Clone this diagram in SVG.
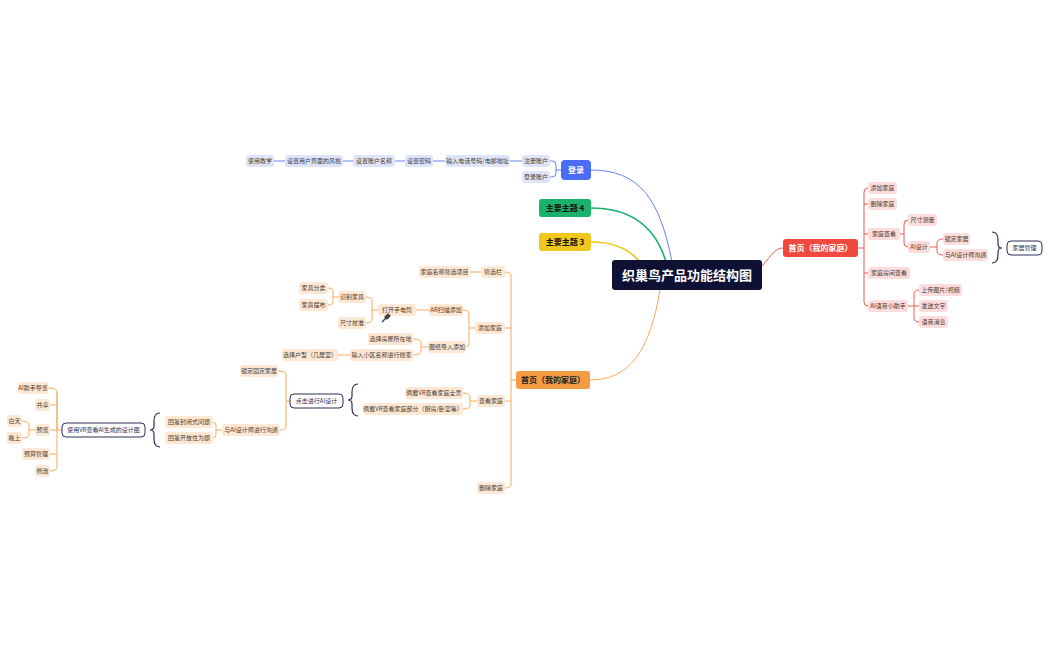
<svg xmlns="http://www.w3.org/2000/svg" width="1049" height="650" viewBox="0 0 1049 650">
<style>
text{font-family:"Noto Sans CJK SC","Noto Sans",sans-serif;font-size:6px;text-anchor:middle;fill:#4a3a2a}
.b rect{fill:#dfe4fb}.o rect{fill:#fde8d6}.r rect{fill:#fcdcdc}
.n rect{fill:#fff;stroke:#2b2f55;stroke-width:1}.n text{fill:#2b2f55}
.lb{fill:none;stroke:#6a7ff5;stroke-width:1}.lo{fill:none;stroke:#f7a95a;stroke-width:1}.lr{fill:none;stroke:#f05a4e;stroke-width:1}.ln{fill:none;stroke:#2b2f55;stroke-width:1.2}
.m text{font-size:8px;font-weight:bold}
</style>
<rect width="1049" height="650" fill="#fff"/>
<g id="connectors">
<path class="lb" d="M672,262 C660,200 640,170 591,170" stroke-width="1.6"/>
<path d="M666,262 C655,225 630,208 591,208" fill="none" stroke="#1ab26b" stroke-width="1.6"/>
<path d="M640,262 C630,250 615,242 591,242" fill="none" stroke="#f0c81d" stroke-width="1.6"/>
<path class="lo" d="M660,290 C650,350 630,380 590,380" stroke-width="1.6"/>
<path class="lr" d="M762,266 C772,255 775,248 783,248" stroke-width="1.6"/>
<path class="lb" d="M561,170 H556 V165 Q556,161 552,161 H550 M556,170 V173 Q556,177 552,177 H550 M522,161 H510 M445,161 H433 M405,161 H395 M353,161 H343 M285,161 H274"/>
<path class="lr" d="M858,248 H864 M864,192 Q864,188 868,188 M864,192 V302 Q864,306 868,306 M864,204 H868 M864,234 H868 M864,273 H868 M900,234 H904 V224 Q904,220 908,220 M904,234 V243 Q904,247 908,247 M930,247 H937 V243 Q937,239 943,239 M937,247 V251 Q937,255 943,255 M908,306 H914 V294 Q914,290 919,290 M914,306 H919 M914,306 V318 Q914,322 919,322"/>
<path class="lo" d="M516,380 H511 M511,276 Q511,272 505,272 M511,276 V484 Q511,488 505,488 M511,328 H505 M511,401 H505 M481,272 H470 M475,328 H469 V314 Q469,310 463,310 M469,328 V343 Q469,347 466,347 M429,310 H416 M378,310 H372 V301 Q372,297 366,297 M372,310 V319 Q372,323 366,323 M338,297 H333 V292 Q333,288 328,288 M333,297 V301 Q333,305 328,305 M428,347 H421 V343 Q421,339 413,339 M421,347 V351 Q421,355 413,355 M350,355 H338 M477,401 H470 V397 Q470,393 463,393 M470,401 V405 Q470,409 463,409 M290,401 H286 V375 Q286,371 278,371 M286,401 V426 Q286,430 280,430 M222,430 H216 V426 Q216,422 213,422 M216,430 V434 Q216,438 213,438 M62,430 H57 V392 Q57,388 48,388 M57,392 V467 Q57,471 50,471 M57,405 H50 M57,430 H50 M57,454 H50 M35,430 H29 V425 Q29,421 22,421 M29,430 V434 Q29,438 22,438"/>
<path class="ln" d="M358,384 Q352,384 352,392 V396 Q352,400 348,400 Q352,400 352,404 V408 Q352,416 358,416 M160,413 Q154,413 154,421 V426 Q154,430 150,430 Q154,430 154,434 V439 Q154,447 160,447 M992,232 Q998,232 998,240 V244 Q998,248 1002,248 Q998,248 998,252 V255 Q998,263 992,263"/>
</g>
<g id="center"><rect x="612" y="260" width="150" height="30" rx="3" fill="#0e1133"/><text x="687" y="279.5" style="font-size:13px;font-weight:bold;fill:#fff">织巢鸟产品功能结构图</text></g>
<g id="login" class="m"><rect x="561" y="160" width="30" height="20" rx="4" fill="#4a6cf7"/><text x="576" y="173" style="fill:#fff">登录</text></g>
<g id="topic4" class="m"><rect x="539" y="199" width="52" height="18" rx="3" fill="#1ab26b"/><text x="565" y="211" style="fill:#111">主要主题 4</text></g>
<g id="topic3" class="m"><rect x="539" y="233" width="52" height="18" rx="3" fill="#f0c81d"/><text x="565" y="245" style="fill:#111">主要主题 3</text></g>
<g id="home-red" class="m"><rect x="783" y="239" width="75" height="18" rx="3" fill="#f04a3e"/><text x="820.5" y="251" style="fill:#fff">首页（我的家庭）</text></g>
<g id="home-orange" class="m"><rect x="516" y="371" width="74" height="18" rx="3" fill="#f59b42"/><text x="553" y="383" style="fill:#222">首页（我的家庭）</text></g>
<g id="login-nodes" class="b">
<rect x="522" y="155" width="28" height="12" rx="3"/><text x="536" y="163">注册账户</text>
<rect x="522" y="171" width="28" height="12" rx="3"/><text x="536" y="179">登录账户</text>
<rect x="445" y="155" width="65" height="12" rx="3"/><text x="477.5" y="163">输入电话号码/电邮地址</text>
<rect x="405" y="155" width="28" height="12" rx="3"/><text x="419" y="163">设置密码</text>
<rect x="353" y="155" width="42" height="12" rx="3"/><text x="374" y="163">设置账户名称</text>
<rect x="285" y="155" width="58" height="12" rx="3"/><text x="314" y="163">设置用户界面的风格</text>
<rect x="246" y="155" width="28" height="12" rx="3"/><text x="260" y="163">使用教学</text>
</g>
<g id="red-nodes" class="r">
<rect x="868" y="182" width="29" height="12" rx="3"/><text x="882.5" y="190">添加家庭</text>
<rect x="868" y="198" width="29" height="12" rx="3"/><text x="882.5" y="206">删除家庭</text>
<rect x="868" y="228" width="32" height="12" rx="3"/><text x="884" y="236">家庭查看</text>
<rect x="868" y="267" width="42" height="12" rx="3"/><text x="889" y="275">家庭房间查看</text>
<rect x="868" y="300" width="40" height="12" rx="3"/><text x="888" y="308">AI语音小助手</text>
<rect x="908" y="214" width="29" height="12" rx="3"/><text x="922.5" y="222">尺寸测量</text>
<rect x="908" y="241" width="22" height="12" rx="3"/><text x="919" y="249">AI设计</text>
<rect x="943" y="233" width="27" height="12" rx="3"/><text x="956.5" y="241">锁定家居</text>
<rect x="943" y="249" width="45" height="12" rx="3"/><text x="965.5" y="257">与AI设计师沟通</text>
<rect x="919" y="284" width="43" height="12" rx="3"/><text x="940.5" y="292">上传图片/视频</text>
<rect x="919" y="300" width="29" height="12" rx="3"/><text x="933.5" y="308">发送文字</text>
<rect x="919" y="316" width="29" height="12" rx="3"/><text x="933.5" y="324">语音消息</text>
</g>
<g id="home-mgmt" class="n"><rect x="1007" y="241" width="35" height="14" rx="4"/><text x="1024.5" y="250">家居管理</text></g>
<g id="orange-nodes" class="o">
<rect x="481" y="266" width="24" height="12" rx="3"/><text x="493" y="274">筛选栏</text>
<rect x="419" y="266" width="51" height="12" rx="3"/><text x="444.5" y="274">家庭名称筛选项目</text>
<rect x="475" y="322" width="30" height="12" rx="3"/><text x="490" y="330">添加家庭</text>
<rect x="477" y="395" width="28" height="12" rx="3"/><text x="491" y="403">查看家庭</text>
<rect x="477" y="482" width="28" height="12" rx="3"/><text x="491" y="490">删除家庭</text>
<rect x="429" y="304" width="34" height="12" rx="3"/><text x="446" y="312">AR扫描添加</text>
<rect x="428" y="341" width="38" height="12" rx="3"/><text x="447" y="349">图纸导入添加</text>
<rect x="378" y="304" width="38" height="12" rx="3"/><text x="397" y="312">打开手电筒</text>
<rect x="338" y="291" width="28" height="12" rx="3"/><text x="352" y="299">识别家具</text>
<rect x="338" y="317" width="28" height="12" rx="3"/><text x="352" y="325">尺寸校准</text>
<rect x="299" y="282" width="29" height="12" rx="3"/><text x="313.5" y="290">家具分类</text>
<rect x="299" y="299" width="29" height="12" rx="3"/><text x="313.5" y="307">家具摆布</text>
<rect x="368" y="333" width="45" height="12" rx="3"/><text x="390.5" y="341">选择房屋所在地</text>
<rect x="350" y="349" width="63" height="12" rx="3"/><text x="381.5" y="357">输入小区名称进行搜索</text>
<rect x="282" y="349" width="56" height="12" rx="3"/><text x="310" y="357">选择户型（几居室）</text>
<rect x="405" y="387" width="58" height="12" rx="3"/><text x="434" y="395">佩戴VR查看家庭全景</text>
<rect x="363" y="403" width="100" height="12" rx="3"/><text x="413" y="411">佩戴VR查看家庭部分（厨房/卧室等）</text>
<rect x="240" y="365" width="38" height="12" rx="3"/><text x="259" y="373">锁定固定家居</text>
<rect x="222" y="424" width="58" height="12" rx="3"/><text x="251" y="432">与AI设计师进行沟通</text>
<rect x="165" y="416" width="48" height="12" rx="3"/><text x="189" y="424">回答封闭式问题</text>
<rect x="165" y="432" width="48" height="12" rx="3"/><text x="189" y="440">回答开放性为题</text>
<rect x="18" y="382" width="30" height="12" rx="3"/><text x="33" y="390">AI助手导览</text>
<rect x="35" y="399" width="15" height="12" rx="3"/><text x="42.5" y="407">共享</text>
<rect x="35" y="424" width="15" height="12" rx="3"/><text x="42.5" y="432">预览</text>
<rect x="22" y="448" width="28" height="12" rx="3"/><text x="36" y="456">预算管理</text>
<rect x="35" y="465" width="15" height="12" rx="3"/><text x="42.5" y="473">修改</text>
<rect x="7" y="415" width="15" height="12" rx="3"/><text x="14.5" y="423">白天</text>
<rect x="7" y="432" width="15" height="12" rx="3"/><text x="14.5" y="440">晚上</text>
</g>
<g id="flashlight"><path d="M382,322 L386,318 M385,317 l3,-3 l2,2 l-3,3 z" stroke="#333" stroke-width="1.2" fill="#555"/></g>
<g id="ai-design" class="n"><rect x="290" y="394" width="53" height="14" rx="4"/><text x="316.5" y="403">点击进行AI设计</text></g>
<g id="vr-view" class="n"><rect x="62" y="423" width="83" height="14" rx="4"/><text x="103.5" y="432">使用VR查看AI生成的设计图</text></g>
</svg>
